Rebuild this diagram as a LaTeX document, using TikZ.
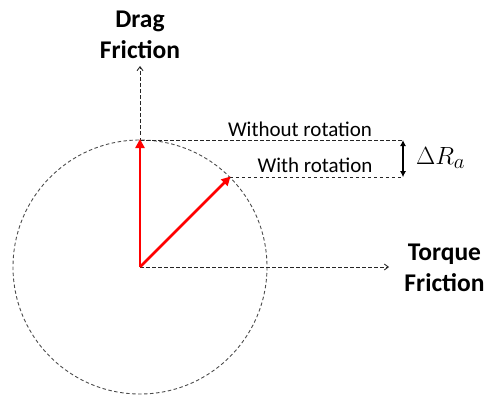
\documentclass[tikz,border=0pt]{standalone}
\usepackage{fontspec}
\setmainfont{Carlito}
\usetikzlibrary{arrows.meta}
\begin{document}
\begin{tikzpicture}[x=1pt,y=-1pt,
  dline/.style={draw=black!85, line width=0.9pt, dash pattern=on 3.5pt off 2.5pt},
  darrow/.style={dline, -{Straight Barb[length=4pt,width=6pt]}},
  redarrow/.style={draw=red, line width=2.6pt, -{Triangle[length=9pt,width=9pt]}, shorten >=-1pt},
  boldlbl/.style={font=\fontsize{25.5}{31}\selectfont\bfseries, align=center, inner sep=0pt},
  lbl/.style={font=\fontsize{21}{24}\selectfont, inner sep=0pt, anchor=base}]
\useasboundingbox (0,0) rectangle (486,398);
\coordinate (O) at (140,267);
\coordinate (T) at (140,140);
\coordinate (D) at (229.8,177.2);
\coordinate (up) at (140,66);
\coordinate (rt) at (389,267);
\coordinate (e1) at (403,140);
\coordinate (e2) at (403,177.2);
\draw[dline, draw=black!70] (O) circle (127);
\draw[darrow] (O) -- (up);
\draw[darrow] (O) -- (rt);
\draw[dline] (T) -- (e1);
\draw[dline] (D) -- (e2);
\draw[redarrow] (O) -- (T);
\draw[redarrow] (O) -- (D);
\draw[line width=1.2pt, {Latex[length=6pt,width=6pt]}-{Latex[length=6pt,width=6pt]}] (e1) -- (e2);
\node[boldlbl] (drag) at (140,35) {Drag\\Friction};
\node[boldlbl] (torque) at (444.5,268) {Torque\\Friction};
\node[lbl] (wo) at (300,136) {Without rotation};
\node[lbl] (w) at (315,172) {With rotation};
\node[inner sep=0pt, anchor=west, font=\fontsize{29}{32}\selectfont] (dr) at (416,158) {$\Delta R_a$};
\end{tikzpicture}
\end{document}
